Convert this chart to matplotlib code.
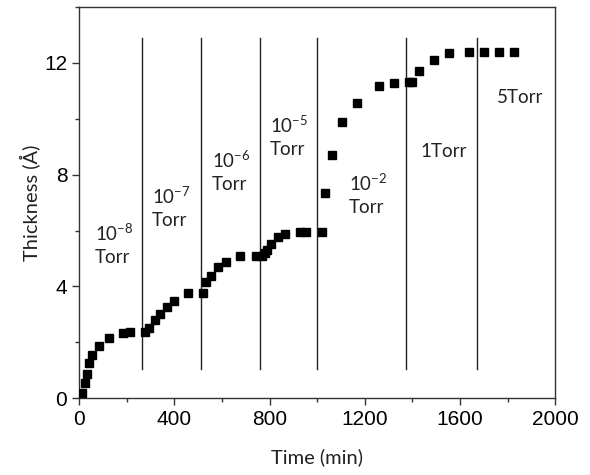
import matplotlib
matplotlib.use("Agg")
import matplotlib.pyplot as plt
from matplotlib.ticker import MultipleLocator

# thickness vs time data
time_min = [12, 25, 35, 43, 53, 84, 126, 186, 214, 277, 294, 319, 340, 371, 399,
            457, 522, 532, 555, 585, 616, 678, 742, 767, 779, 789, 805, 835, 866,
            926, 952, 1020, 1034, 1062, 1106, 1169, 1260, 1324, 1384, 1400, 1429,
            1489, 1552, 1640, 1702, 1762, 1825]
thickness = [0.19, 0.55, 0.86, 1.24, 1.54, 1.86, 2.14, 2.32, 2.37, 2.37, 2.5, 2.8,
             3.0, 3.25, 3.48, 3.75, 3.75, 4.17, 4.37, 4.7, 4.89, 5.09, 5.1, 5.1,
             5.18, 5.3, 5.52, 5.76, 5.88, 5.94, 5.94, 5.96, 7.34, 8.71, 9.9, 10.56,
             11.16, 11.3, 11.32, 11.32, 11.7, 12.11, 12.35, 12.41, 12.41, 12.41, 12.41]

# pressure change boundaries
boundaries = [263, 512, 758, 1000, 1375, 1672]
pressure_labels = ['10$^{-8}$\nTorr', '10$^{-7}$\nTorr', '10$^{-6}$\nTorr',
                   '10$^{-5}$\nTorr', '10$^{-2}$\nTorr', '1Torr', '5Torr']
label_x = [67, 307, 559, 802, 1134, 1433, 1756]
label_y = [5.5, 6.84, 8.13, 9.38, 7.3, 8.82, 10.75]

plt.rcParams['mathtext.fontset'] = 'custom'
plt.rcParams['mathtext.rm'] = 'Lato'
plt.rcParams['mathtext.it'] = 'Lato'
plt.rcParams['mathtext.default'] = 'regular'

fig = plt.figure(figsize=(5.9, 4.75), dpi=100)
ax = fig.add_axes([0.134, 0.162, 0.807, 0.823])

for b in boundaries:
    ax.plot([b, b], [1.05, 12.9], color='#222222', lw=1.0, zorder=1)

ax.plot(time_min, thickness, 's', color='black', ms=5.2, zorder=3)

for x, y, t in zip(label_x, label_y, pressure_labels):
    ax.text(x, y, t, fontsize=13.5, family='Lato', color='#222222',
            ha='left', va='center', linespacing=1.35)

ax.set_xlim(0, 2000)
ax.set_ylim(0, 14)
ax.xaxis.set_major_locator(MultipleLocator(400))
ax.xaxis.set_minor_locator(MultipleLocator(200))
ax.yaxis.set_major_locator(MultipleLocator(4))
ax.yaxis.set_minor_locator(MultipleLocator(2))
ax.tick_params(which='major', direction='out', length=5, width=1, colors='#333333',
               labelsize=15, labelcolor='black')
ax.tick_params(which='minor', direction='out', length=3, width=1, colors='#333333')
for lab in ax.get_xticklabels() + ax.get_yticklabels():
    lab.set_family('Liberation Sans')
for s in ax.spines.values():
    s.set_color('#333333')
    s.set_linewidth(1.0)

ax.set_xlabel('Time (min)', fontsize=14.5, family='Lato', color='#222222', labelpad=14)
ax.set_ylabel('Thickness (Å)', fontsize=14.5, family='Lato', color='#222222', labelpad=3)

fig.savefig('out.png', dpi=100)
